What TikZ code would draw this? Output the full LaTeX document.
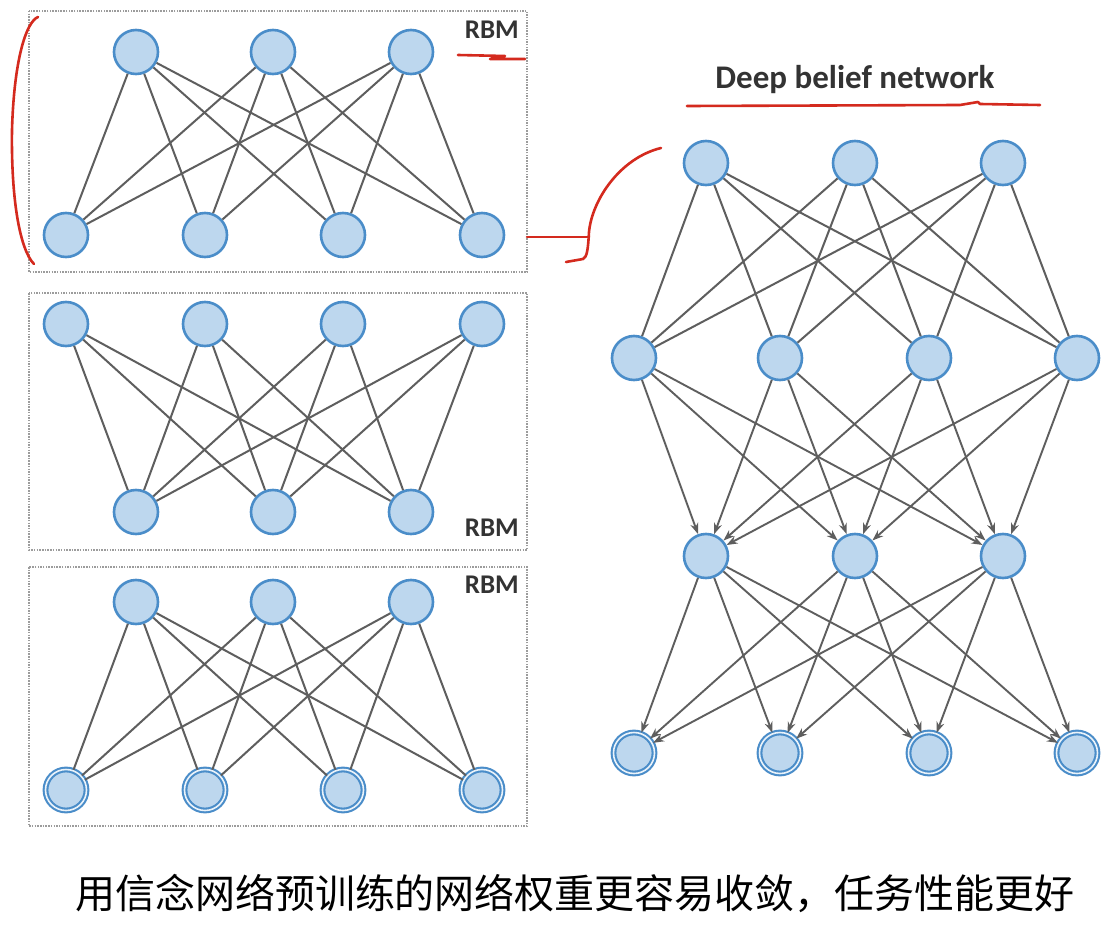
\documentclass[tikz,border=0pt]{standalone}
\usepackage{fontspec}
\setmainfont{Carlito}
\newfontfamily\cjk{Noto Sans CJK SC}
\usetikzlibrary{arrows.meta}
\definecolor{nfill}{HTML}{BDD7EE}
\definecolor{nborder}{HTML}{4A8DC9}
\definecolor{edgec}{HTML}{5E5E5E}
\definecolor{boxc}{HTML}{9C9C9C}
\definecolor{pen}{HTML}{D42A1E}
\definecolor{txt}{HTML}{333333}
\begin{document}
\begin{tikzpicture}[x=1pt,y=-1pt,
  unit/.style={circle,draw=nborder,fill=nfill,line width=2.6pt,minimum size=44pt,inner sep=0pt},
  vis/.style={circle,draw=nborder,fill=nfill,line width=2.1pt,double=white!70!nfill,double distance=1.6pt,minimum size=41pt,inner sep=0pt},
  link/.style={draw=edgec,line width=2pt},
  dlink/.style={draw=edgec,line width=1.9pt,-{Stealth[length=11pt,width=8pt]}},
  rbmbox/.style={draw=boxc,line width=1.1pt,dash pattern=on 1.5pt off 1.2pt},
  lbl/.style={font=\bfseries\fontsize{27}{30}\selectfont,text=txt,inner sep=0pt},
  redpen/.style={draw=pen,line width=2.6pt,line cap=round,line join=round}
]
\useasboundingbox (0,0) rectangle (1120,934);
\fill[white] (0,0) rectangle (1120,934);

% ---------- RBM boxes ----------
\draw[rbmbox] (29,11) rectangle (527,272);
\draw[rbmbox] (29,293) rectangle (527,550);
\draw[rbmbox] (29,567) rectangle (527,826);

% box 1
\foreach \x [count=\i] in {136,273,411} \node[unit] (a\i) at (\x,52) {};
\foreach \x [count=\i] in {66,205,343,482} \node[unit] (b\i) at (\x,235) {};
\foreach \i in {1,2,3} \foreach \j in {1,2,3,4} \draw[link] (a\i) -- (b\j);
\node[lbl,anchor=north east] (rbm1) at (519,21) {RBM};

% box 2
\foreach \x [count=\i] in {66,205,343,482} \node[unit] (c\i) at (\x,324) {};
\foreach \x [count=\i] in {136,273,411} \node[unit] (d\i) at (\x,512) {};
\foreach \i in {1,2,3,4} \foreach \j in {1,2,3} \draw[link] (c\i) -- (d\j);
\node[lbl,anchor=north east] (rbm2) at (519,519) {RBM};

% box 3
\foreach \x [count=\i] in {136,273,411} \node[unit] (e\i) at (\x,602) {};
\foreach \x [count=\i] in {66,205,343,482} \node[vis] (f\i) at (\x,790) {};
\foreach \i in {1,2,3} \foreach \j in {1,2,3,4} \draw[link] (e\i) -- (f\j);
\node[lbl,anchor=north east] (rbm3) at (519,576) {RBM};

% ---------- Deep belief network ----------
\node[font=\bfseries\fontsize{33}{36}\selectfont,text=txt,inner sep=0pt] (title) at (855,80) {Deep belief network};

\foreach \x [count=\i] in {706,855,1003} \node[unit] (p\i) at (\x,163) {};
\foreach \x [count=\i] in {634,780,929,1077} \node[unit] (q\i) at (\x,358) {};
\foreach \x [count=\i] in {706,855,1003} \node[unit] (r\i) at (\x,556) {};
\foreach \x [count=\i] in {634,780,929,1077} \node[vis] (s\i) at (\x,753) {};

\foreach \i in {1,2,3} \foreach \j in {1,2,3,4} \draw[link] (p\i) -- (q\j);
\foreach \i in {1,2,3,4} \foreach \j in {1,2,3} \draw[dlink] (q\i) -- (r\j);
\foreach \i in {1,2,3} \foreach \j in {1,2,3,4} \draw[dlink] (r\i) -- (s\j);

% ---------- caption ----------
\node[font=\cjk\fontsize{40}{44}\selectfont,inner sep=0pt] (cap) at (575,893) {用信念网络预训练的网络权重更容易收敛，任务性能更好};

% ---------- red pen annotations ----------
\draw[redpen] (38,17) .. controls (26,22) and (14,60) .. (12,130)
   .. controls (11,200) and (20,250) .. (34,264);
\draw[redpen] (458,55) -- (505,56) -- (490,59) -- (525,59);
\draw[redpen] (527,237) -- (589,237);
\draw[redpen] (661,148) .. controls (620,158) and (592,200) .. (589,232)
   .. controls (588,250) and (587,257) .. (583,259) -- (566,262);
\draw[redpen] (687,106) -- (960,105) -- (978,102) -- (980,104) -- (1040,105);
\end{tikzpicture}
\end{document}
